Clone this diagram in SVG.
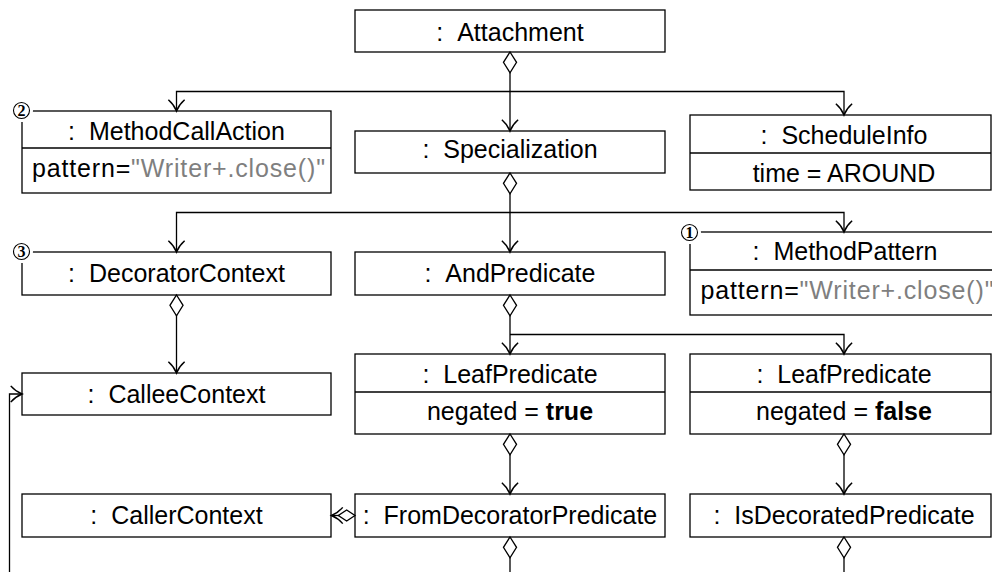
<svg xmlns="http://www.w3.org/2000/svg" width="992" height="572" viewBox="0 0 992 572">
<style>
.box{fill:#fff;stroke:#000;stroke-width:1.3}
.div{stroke:#000;stroke-width:1.3}
.t{font-family:"Liberation Sans",Arial,sans-serif;font-size:25px;fill:#000;text-anchor:middle}
.a{font-family:"Liberation Sans",Arial,sans-serif;font-size:25px;fill:#000}
.g{fill:#7f7f7f}
.b{font-weight:bold}
.con{fill:none;stroke:#000;stroke-width:1.3}
.agg{marker-start:url(#diamond)}
.aggs{marker-start:url(#diamondS)}
.arr{marker-end:url(#arrow)}
.bg{fill:#fff;stroke:none}
.ring{fill:#fff;stroke:#000;stroke-width:1.1}
.num{font-family:"Liberation Serif","DejaVu Serif",serif;font-size:16px;font-weight:bold;text-anchor:middle;fill:#000}
</style>
<defs>
<marker id="arrow" markerUnits="userSpaceOnUse" markerWidth="20" markerHeight="20" viewBox="-11 -8 12 16" refX="0" refY="0" orient="auto" overflow="visible">
<path d="M-9,-6.5 C-6,-3 -2.2,-0.9 0,0 C-2.2,0.9 -6,3 -9,6.5" fill="none" stroke="#000" stroke-width="1.2"/>
</marker>
<marker id="diamond" markerUnits="userSpaceOnUse" markerWidth="24" markerHeight="16" viewBox="-1 -7 22 14" refX="0" refY="0" orient="auto" overflow="visible">
<path d="M0,0 L9.5,-6 L19,0 L9.5,6 Z" fill="#fff" stroke="#000" stroke-width="1.2"/>
</marker>
<marker id="diamondS" markerUnits="userSpaceOnUse" markerWidth="20" markerHeight="14" viewBox="-1 -6 18 12" refX="0" refY="0" orient="auto" overflow="visible">
<path d="M0,0 L7.5,-5 L15,0 L7.5,5 Z" fill="#fff" stroke="#000" stroke-width="1.2"/>
</marker>
</defs>

<g id="attachment">
<rect class="box" x="355" y="10" width="310" height="42"/>
<text class="t" x="510" y="41">: &#160;Attachment</text>
</g>

<g id="specialization">
<rect class="box" x="355" y="131" width="310" height="42"/>
<text class="t" x="510" y="158">: &#160;Specialization</text>
</g>

<g id="methodcallaction">
<rect class="box" x="22" y="111" width="309" height="82"/>
<line class="div" x1="22" y1="148" x2="331" y2="148"/>
<text class="t" x="176.5" y="140">: &#160;MethodCallAction</text>
<text class="a" x="32" y="177" textLength="293" lengthAdjust="spacing">pattern=<tspan class="g">"Writer+.close()"</tspan></text>
<circle class="bg" cx="21.5" cy="110.5" r="11.5"/>
<circle class="ring" cx="21.5" cy="110.5" r="8"/>
<text class="num" x="21.5" y="116">2</text>
</g>

<g id="scheduleinfo">
<rect class="box" x="690" y="115" width="301" height="75"/>
<line class="div" x1="690" y1="153" x2="991" y2="153"/>
<text class="t" x="844" y="144">: &#160;ScheduleInfo</text>
<text class="t" x="844" y="182">time = AROUND</text>
</g>

<g id="decoratorcontext">
<rect class="box" x="22" y="252" width="309" height="43"/>
<text class="t" x="176.5" y="282">: &#160;DecoratorContext</text>
<circle class="bg" cx="21.5" cy="251.5" r="11.5"/>
<circle class="ring" cx="21.5" cy="251.5" r="8"/>
<text class="num" x="21.5" y="257">3</text>
</g>

<g id="andpredicate">
<rect class="box" x="355" y="252" width="310" height="43"/>
<text class="t" x="510" y="282">: &#160;AndPredicate</text>
</g>

<g id="methodpattern">
<rect class="box" x="690" y="232" width="320" height="83"/>
<line class="div" x1="690" y1="270" x2="1010" y2="270"/>
<text class="t" x="845" y="260">: &#160;MethodPattern</text>
<text class="a" x="700.5" y="298.5" textLength="293" lengthAdjust="spacing">pattern=<tspan class="g">"Writer+.close()"</tspan></text>
<circle class="bg" cx="689.5" cy="232.5" r="11.5"/>
<circle class="ring" cx="689.5" cy="232.5" r="8"/>
<text class="num" x="689.5" y="238">1</text>
</g>

<g id="calleecontext">
<rect class="box" x="22" y="373" width="309" height="42"/>
<text class="t" x="176.5" y="403">: &#160;CalleeContext</text>
</g>

<g id="leafpredicate-true">
<rect class="box" x="355" y="354" width="310" height="80"/>
<line class="div" x1="355" y1="392" x2="665" y2="392"/>
<text class="t" x="510" y="382.5">: &#160;LeafPredicate</text>
<text class="t" x="510" y="419.5">negated = <tspan class="b">true</tspan></text>
</g>

<g id="leafpredicate-false">
<rect class="box" x="690" y="354" width="301" height="80"/>
<line class="div" x1="690" y1="392" x2="991" y2="392"/>
<text class="t" x="844" y="382.5">: &#160;LeafPredicate</text>
<text class="t" x="844" y="419.5">negated = <tspan class="b">false</tspan></text>
</g>

<g id="callercontext">
<rect class="box" x="22" y="494" width="309" height="43"/>
<text class="t" x="176.5" y="524">: &#160;CallerContext</text>
</g>

<g id="fromdecoratorpredicate">
<rect class="box" x="355" y="494" width="310" height="43"/>
<text class="t" x="510" y="524">: &#160;FromDecoratorPredicate</text>
</g>

<g id="isdecoratedpredicate">
<rect class="box" x="690" y="494" width="301" height="43"/>
<text class="t" x="844" y="524">: &#160;IsDecoratedPredicate</text>
</g>

<g id="connectors">
<path class="con agg arr" d="M510,52 V131"/>
<path class="con arr" d="M510,91.5 H176.5 V111"/>
<path class="con arr" d="M510,91.5 H844 V115"/>
<path class="con agg arr" d="M510,173 V252"/>
<path class="con arr" d="M510,212.5 H176.5 V252"/>
<path class="con arr" d="M510,212.5 H844 V232"/>
<path class="con agg arr" d="M510,295 V354"/>
<path class="con arr" d="M510,334.5 H844 V354"/>
<path class="con agg arr" d="M176.5,295 V373"/>
<path class="con agg arr" d="M510,434 V494"/>
<path class="con agg arr" d="M844,434 V494"/>
<path class="con agg" d="M510,537 V590"/>
<path class="con agg" d="M844,537 V590"/>
<path class="con aggs arr" d="M355,515.5 H331.5"/>
<path class="con arr" d="M9.5,590 V394 H22"/>
</g>
</svg>
